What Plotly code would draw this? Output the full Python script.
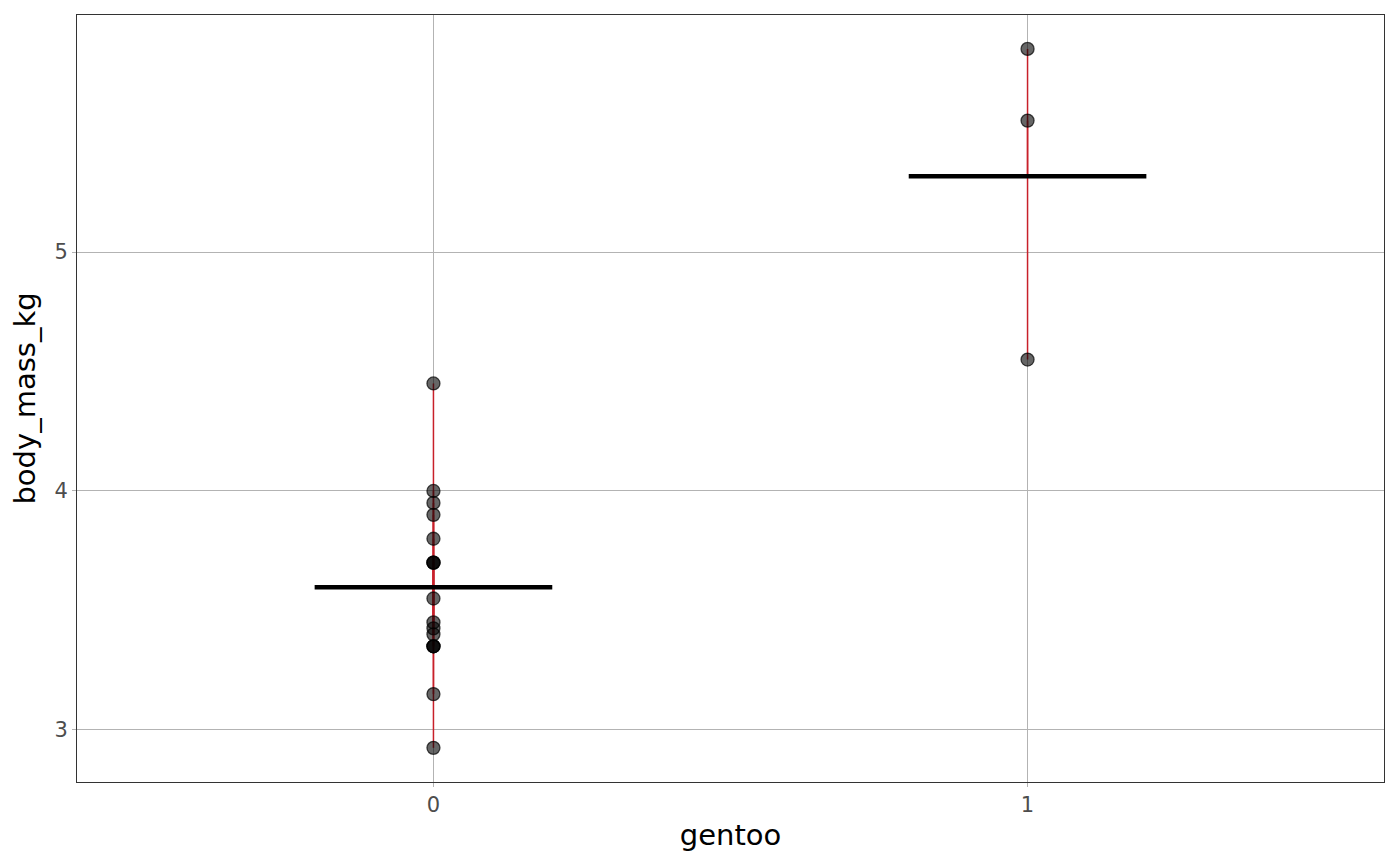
import plotly.graph_objects as go

# body mass (kg) per group
gentoo_groups = [0, 1]
mass_not_gentoo = [4.45, 4.0, 3.95, 3.9, 3.8, 3.7, 3.7, 3.7, 3.55, 3.45, 3.425,
                   3.4, 3.35, 3.35, 3.35, 3.15, 2.925]
mass_gentoo = [5.85, 5.55, 4.55]
group_values = [mass_not_gentoo, mass_gentoo]
tick_labels = ["0", "1"]

fig = go.Figure()

# red residual segments from each point to its group mean
for g, vals in zip(gentoo_groups, group_values):
    m = sum(vals) / len(vals)
    xs, ys = [], []
    for v in vals:
        xs += [g, g, None]
        ys += [v, m, None]
    fig.add_trace(go.Scatter(x=xs, y=ys, mode="lines",
                             line=dict(color="#C8202A", width=1.5),
                             hoverinfo="skip", showlegend=False))

# group means
for g, vals in zip(gentoo_groups, group_values):
    m = sum(vals) / len(vals)
    fig.add_trace(go.Scatter(x=[g - 0.2, g + 0.2], y=[m, m], mode="lines",
                             line=dict(color="black", width=4.5),
                             showlegend=False))

# points
for g, vals in zip(gentoo_groups, group_values):
    fig.add_trace(go.Scatter(x=[g] * len(vals), y=vals, mode="markers",
                             marker=dict(size=13, color="rgba(0,0,0,0.6)",
                                         line=dict(color="rgba(0,0,0,0.7)", width=1.3)),
                             showlegend=False))

axis_common = dict(showgrid=True, gridcolor="#b3b3b3", gridwidth=1,
                   zeroline=False, showline=True, linecolor="#333333",
                   linewidth=1, mirror=True, ticks="outside", ticklen=4,
                   tickcolor="#b3b3b3",
                   tickfont=dict(size=21, color="#4d4d4d"),
                   title_font=dict(size=29, color="black"))

fig.update_xaxes(range=[-0.6, 1.6], tickvals=gentoo_groups, ticktext=tick_labels,
                 title_text="gentoo", title_standoff=8, **axis_common)
fig.update_yaxes(range=[2.782, 5.992], tickvals=[3, 4, 5],
                 title_text="body_mass_kg", title_standoff=10, **axis_common)

# page body adds 8px offset, so the figure is sized to fit the window
fig.update_layout(width=1392, height=858, plot_bgcolor="white",
                  paper_bgcolor="white",
                  font=dict(family="DejaVu Sans"),
                  margin=dict(l=69, r=16, t=7, b=84))

fig.write_html("out.html")
